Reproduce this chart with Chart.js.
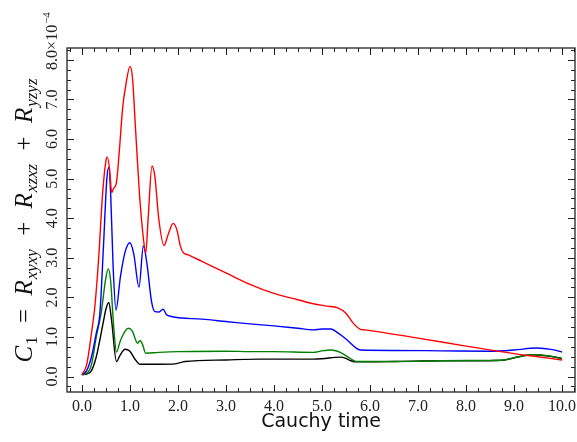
<!DOCTYPE html>
<html>
<head>
<meta charset="utf-8">
<script src="https://cdn.jsdelivr.net/npm/chart.js@4/dist/chart.umd.min.js"></script>
<style>
  html, body { margin: 0; padding: 0; background: #fff; }
  canvas { display: block; }
</style>
</head>
<body>
<canvas id="chart" width="577" height="442"></canvas>
<script>
// values in units of 1e-4
const redT = [0, 0.1, 0.2, 0.27, 0.35, 0.43, 0.5, 0.53, 0.58, 0.62, 0.66, 0.72, 0.78, 0.85, 0.92, 1.0, 1.05, 1.12, 1.2, 1.28, 1.33, 1.38, 1.46, 1.52, 1.6, 1.71, 1.8, 1.9, 1.98, 2.05, 2.11, 2.2, 2.5, 3.0, 3.5, 4.0, 4.5, 4.82, 5.1, 5.34, 5.5, 5.65, 5.79, 5.9, 7.0, 8.0, 9.0, 9.5, 10.0];
const redC = [0.05, 0.3, 1.1, 1.77, 3.0, 4.6, 5.45, 5.55, 5.2, 4.65, 4.75, 4.9, 5.7, 6.8, 7.4, 7.83, 7.6, 6.2, 4.6, 3.5, 3.12, 4.0, 5.32, 5.05, 4.0, 3.31, 3.6, 3.87, 3.7, 3.3, 3.13, 3.08, 2.91, 2.62, 2.33, 2.1, 1.94, 1.84, 1.78, 1.73, 1.6, 1.35, 1.2, 1.18, 0.97, 0.77, 0.58, 0.5, 0.42];

const blueT = [0, 0.1, 0.2, 0.3, 0.375, 0.45, 0.52, 0.56, 0.6, 0.65, 0.71, 0.8, 0.9, 1.0, 1.08, 1.19, 1.28, 1.35, 1.45, 1.52, 1.6, 1.69, 1.76, 1.82, 2.5, 3.0, 3.5, 4.0, 4.5, 4.82, 5.0, 5.19, 5.3, 5.5, 5.7, 5.8, 6.5, 7.5, 8.5, 9.0, 9.47, 9.8, 10.0];
const blueC = [0.05, 0.15, 0.5, 1.1, 1.6, 3.3, 5.0, 5.28, 4.6, 2.8, 1.68, 2.5, 3.15, 3.38, 3.1, 2.26, 3.3, 2.9, 1.9, 1.64, 1.63, 1.7, 1.57, 1.53, 1.45, 1.39, 1.33, 1.28, 1.22, 1.18, 1.2, 1.2, 1.13, 0.95, 0.73, 0.67, 0.66, 0.65, 0.64, 0.67, 0.72, 0.68, 0.62];

const greenT = [0, 0.1, 0.2, 0.3, 0.4, 0.5, 0.55, 0.6, 0.66, 0.72, 0.8, 0.9, 0.97, 1.05, 1.16, 1.21, 1.26, 1.33, 1.6, 2.0, 3.0, 3.5, 4.0, 4.82, 5.0, 5.19, 5.4, 5.6, 5.72, 6.5, 7.5, 8.5, 8.8, 9.1, 9.4, 9.7, 10.0];
const greenC = [0.05, 0.08, 0.3, 1.0, 1.6, 2.5, 2.72, 2.4, 1.3, 0.62, 0.9, 1.15, 1.22, 1.15, 0.84, 0.91, 0.82, 0.59, 0.61, 0.63, 0.64, 0.63, 0.63, 0.61, 0.65, 0.67, 0.6, 0.45, 0.38, 0.38, 0.4, 0.41, 0.42, 0.5, 0.55, 0.53, 0.45];

const blackT = [0, 0.1, 0.2, 0.3, 0.375, 0.45, 0.5, 0.56, 0.62, 0.72, 0.8, 0.9, 1.0, 1.1, 1.21, 1.6, 1.94, 2.15, 3.0, 3.71, 4.5, 4.82, 5.0, 5.37, 5.5, 5.6, 5.72, 6.5, 7.5, 8.5, 8.8, 9.1, 9.4, 9.7, 10.0];
const blackC = [0.05, 0.06, 0.15, 0.5, 0.93, 1.4, 1.7, 1.87, 1.4, 0.38, 0.55, 0.69, 0.64, 0.45, 0.31, 0.31, 0.32, 0.38, 0.42, 0.44, 0.44, 0.44, 0.45, 0.49, 0.46, 0.4, 0.37, 0.38, 0.4, 0.4, 0.42, 0.5, 0.55, 0.52, 0.46];

const xTicks = [0, 1, 2, 3, 4, 5, 6, 7, 8, 9, 10];
const xTickLabels = ["0.0", "1.0", "2.0", "3.0", "4.0", "5.0", "6.0", "7.0", "8.0", "9.0", "10.0"];
const yTicks = [0, 1, 2, 3, 4, 5, 6, 7, 8];
const yTickLabels = ["0.0", "1.0", "2.0", "3.0", "4.0", "5.0", "6.0", "7.0", "8.0"];

const pts = (t, c) => t.map((v, i) => ({ x: v, y: c[i] }));

const serif = '"Liberation Serif", "DejaVu Serif", serif';

function series(label, t, c, color) {
  return {
    label: label,
    data: pts(t, c),
    borderColor: color,
    borderWidth: 1.4,
    pointRadius: 0,
    showLine: true,
    fill: false,
    cubicInterpolationMode: "monotone"
  };
}

// inward ticks, frame, tick labels and axis titles
const decor = {
  id: "decor",
  afterDraw(chart) {
    const ctx = chart.ctx;
    const a = chart.chartArea;
    const xs = chart.scales.x, ys = chart.scales.y;
    ctx.save();
    ctx.strokeStyle = "#222";
    ctx.lineWidth = 1;
    ctx.beginPath();
    for (let v = -0.25; v <= 10.3; v += 0.25) {
      const px = Math.round(xs.getPixelForValue(v)) + 0.5;
      if (px < a.left || px > a.right) continue;
      const major = Math.abs(v - Math.round(v)) < 1e-6;
      const len = major ? 7 : 4;
      ctx.moveTo(px, a.bottom); ctx.lineTo(px, a.bottom - len);
      ctx.moveTo(px, a.top); ctx.lineTo(px, a.top + len);
    }
    for (let v = -0.25; v <= 8.3; v += 0.25) {
      const py = Math.round(ys.getPixelForValue(v)) + 0.5;
      if (py < a.top || py > a.bottom) continue;
      const major = Math.abs(v - Math.round(v)) < 1e-6;
      const len = major ? 7 : 4;
      ctx.moveTo(a.left, py); ctx.lineTo(a.left + len, py);
      ctx.moveTo(a.right, py); ctx.lineTo(a.right - len, py);
    }
    ctx.stroke();
    ctx.lineWidth = 1.3;
    ctx.strokeRect(a.left, a.top, a.right - a.left, a.bottom - a.top);

    ctx.fillStyle = "#222";
    ctx.font = "16px " + serif;
    ctx.textAlign = "center";
    ctx.textBaseline = "alphabetic";
    xTicks.forEach((v, i) => {
      ctx.fillText(xTickLabels[i], xs.getPixelForValue(v), 411);
    });

    // rotated y tick labels
    yTicks.forEach((v, i) => {
      ctx.save();
      ctx.translate(57, ys.getPixelForValue(v));
      ctx.rotate(-Math.PI / 2);
      ctx.textAlign = "center";
      ctx.fillText(yTickLabels[i], 0, 0);
      ctx.restore();
    });
    // offset text x10^-4
    ctx.save();
    ctx.translate(57, ys.getPixelForValue(8) - 10);
    ctx.rotate(-Math.PI / 2);
    ctx.textAlign = "left";
    ctx.font = "16px " + serif;
    ctx.fillText("\u00d710", 0, 0);
    const w10 = ctx.measureText("\u00d710").width;
    ctx.font = "11px " + serif;
    ctx.fillText("\u22124", w10 + 1, -7);
    ctx.restore();

    // x title
    ctx.font = '19px "DejaVu Sans", sans-serif';
    ctx.textAlign = "center";
    ctx.fillStyle = "#111";
    ctx.fillText("Cauchy time", (a.left + a.right) / 2, 427);

    // y title, drawn as segments; operators get padded to fill the span
    const big = "italic 25px " + serif, bigUp = "25px " + serif, small = "italic 17px " + serif, smallUp = "17px " + serif;
    const segs = [
      ["C", big, 0, 0], ["1", smallUp, 5, 0], ["=", bigUp, 0, 1],
      ["R", big, 0, 0], ["xyxy", small, 5, 0], ["+", bigUp, 0, 1],
      ["R", big, 0, 0], ["xzxz", small, 5, 0], ["+", bigUp, 0, 1],
      ["R", big, 0, 0], ["yzyz", small, 5, 0]
    ];
    const span = 285;
    let natural = 0;
    segs.forEach(s => { ctx.font = s[1]; natural += ctx.measureText(s[0]).width + 1; });
    const pad = Math.max(0, (span - natural) / 6);
    ctx.save();
    ctx.translate(32, 220);
    ctx.rotate(-Math.PI / 2);
    ctx.textAlign = "left";
    let x = -span / 2;
    segs.forEach(s => {
      ctx.font = s[1];
      if (s[3]) x += pad;
      ctx.fillText(s[0], x, s[2]);
      x += ctx.measureText(s[0]).width + 1;
      if (s[3]) x += pad;
    });
    ctx.restore();
    ctx.restore();
  }
};

new Chart(document.getElementById("chart"), {
  type: "scatter",
  data: {
    datasets: [
      series("red", redT, redC, "#ff0000"),
      series("blue", blueT, blueC, "#0000ff"),
      series("green", greenT, greenC, "#008000"),
      series("black", blackT, blackC, "#000000")
    ]
  },
  options: {
    responsive: false,
    animation: false,
    layout: { padding: { top: 48, right: 2, left: 0, bottom: 0 } },
    plugins: { legend: { display: false }, tooltip: { enabled: false } },
    scales: {
      x: {
        type: "linear", min: -0.31, max: 10.27,
        grid: { display: false }, border: { display: false },
        ticks: { display: false },
        afterFit(s) { s.height = 50; }
      },
      y: {
        type: "linear", min: -0.39, max: 8.3,
        grid: { display: false }, border: { display: false },
        ticks: { display: false },
        afterFit(s) { s.width = 67; }
      }
    }
  },
  plugins: [decor]
});
</script>
</body>
</html>
